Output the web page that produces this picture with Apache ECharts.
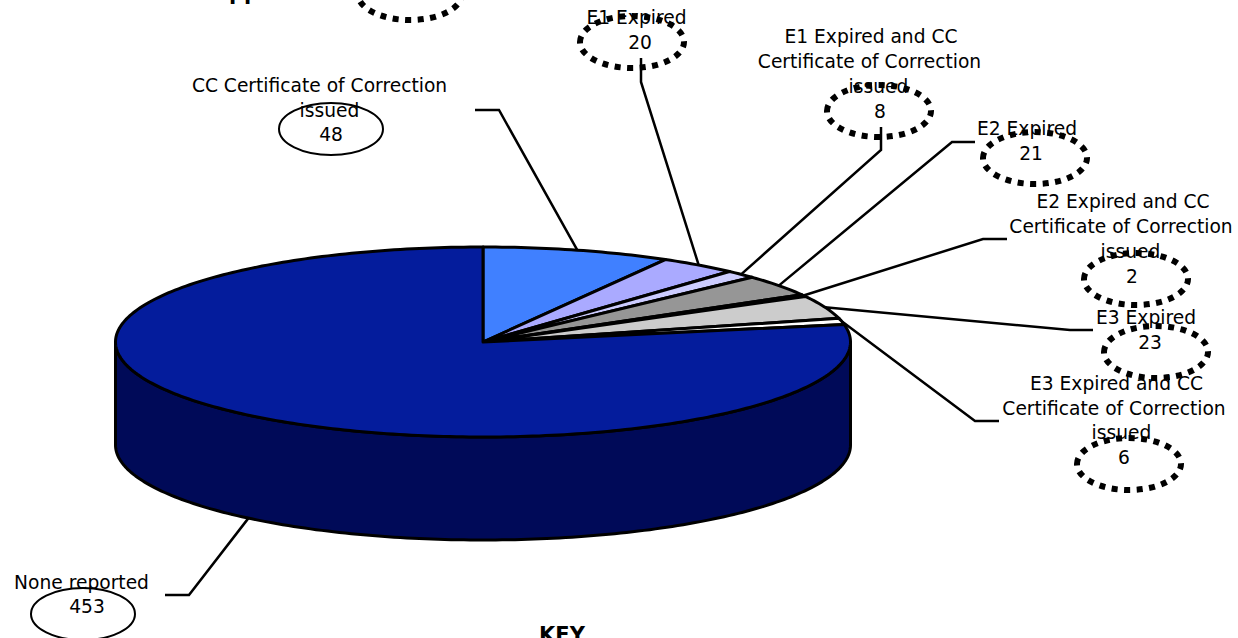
<!DOCTYPE html>
<html>
<head>
<meta charset="utf-8">
<style>
  html, body { margin: 0; padding: 0; background: #fff; }
  #chart { width: 1238px; height: 638px; font-variant-ligatures: none; }
</style>
<script src="https://cdn.jsdelivr.net/npm/echarts@6/dist/echarts.min.js"></script>
</head>
<body>
<div id="chart"></div>
<script>
// Complaint categories, clockwise from twelve o'clock.
const categories = [
  'CC Certificate of Correction\nissued',
  'E1 Expired',
  'E1 Expired and CC\nCertificate of Correction\nissued',
  'E2 Expired',
  'E2 Expired and CC\nCertificate of Correction\nissued',
  'E3 Expired',
  'E3 Expired and CC\nCertificate of Correction\nissued',
  'None reported'
];
const values = [48, 20, 8, 21, 2, 23, 6, 453];

// Slice fills, same order as the categories.
const sliceColors = ['#4080FF', '#AAAAFF', '#CCCCFF', '#969696', '#333333', '#CCCCCC', '#FFFFFF', '#041C9C'];
const wallColor = '#000A58';

// Tilted disc geometry.
const disc = { cx: 483, cy: 342, rx: 367.5, ry: 95, depth: 103 };

// Callout layout: text rows, ring centre, leader elbows (outermost point first).
const callouts = [
  { lineX: [319.5, 329.5], lineY: [85, 110], valueX: 331, valueY: 134, ring: [331, 129], solid: true,
    leader: [[475, 110], [499, 110]] },
  { lineX: [636.5], lineY: [17], valueX: 640, valueY: 42, ring: [632, 42], solid: false,
    leader: [[641, 58], [641, 82]] },
  { lineX: [871, 869.5, 878.5], lineY: [36, 61, 86], valueX: 880, valueY: 111, ring: [879, 111], solid: false,
    leader: [[881, 127], [881, 150]] },
  { lineX: [1027], lineY: [128], valueX: 1031, valueY: 153, ring: [1035, 158], solid: false,
    leader: [[975, 142], [952, 142]] },
  { lineX: [1123, 1121, 1130.5], lineY: [201, 226, 251], valueX: 1132, valueY: 276, ring: [1136, 279], solid: false,
    leader: [[1007, 239], [983, 239]] },
  { lineX: [1146], lineY: [317], valueX: 1150, valueY: 342, ring: [1156, 352], solid: false,
    leader: [[1093, 330], [1070, 330]] },
  { lineX: [1116.5, 1114, 1121.5], lineY: [383, 408, 432], valueX: 1124, valueY: 457, ring: [1129, 464], solid: false,
    leader: [[999, 421], [975, 421]] },
  { lineX: [81.5], lineY: [582], valueX: 87, valueY: 606, ring: [83, 614], solid: true,
    leader: [[165, 595], [189, 595]] }
];

// Ring and bold headings running off the top and bottom of the page.
const clippedRing = [410, -6];
const clippedHeadings = [
  { text: 'pp', x: 244, y: -7 },
  { text: 'KEY', x: 562, y: 635 }
];

const FONT = '18.67px "DejaVu Sans", Verdana, sans-serif';
const BOLD_FONT = 'bold 21px "DejaVu Sans", Verdana, sans-serif';
const total = values.reduce((a, b) => a + b, 0);

// Start and end of every slice in degrees, clockwise from the top.
const spans = [];
values.reduce((acc, v) => {
  const end = acc + v / total * 360;
  spans.push([acc, end]);
  return end;
}, 0);

function rimPoint(deg, drop) {
  const t = deg * Math.PI / 180;
  return [disc.cx + disc.rx * Math.sin(t), disc.cy - disc.ry * Math.cos(t) + (drop || 0)];
}

function arcPoints(a0, a1, drop) {
  const pts = [];
  const n = Math.max(2, Math.ceil(Math.abs(a1 - a0)));
  for (let k = 0; k <= n; k++) pts.push(rimPoint(a0 + (a1 - a0) * k / n, drop));
  return pts;
}

// Visible outer wall: only the front half of the disc shows it.
function renderWall(params) {
  const [a, b] = spans[params.dataIndex];
  const a0 = Math.max(a, 90), a1 = Math.min(b, 270);
  if (a1 <= a0) return { type: 'group', children: [] };
  return {
    type: 'polygon',
    shape: { points: arcPoints(a0, a1, 0).concat(arcPoints(a1, a0, disc.depth)) },
    style: { fill: wallColor, stroke: '#000', lineWidth: 3, lineJoin: 'round' }
  };
}

function renderTop(params) {
  const [a, b] = spans[params.dataIndex];
  return {
    type: 'polygon',
    shape: { points: [[disc.cx, disc.cy]].concat(arcPoints(a, b, 0)) },
    style: { fill: sliceColors[params.dataIndex], stroke: '#000', lineWidth: 3, lineJoin: 'round' }
  };
}

function ringShape(center, solid) {
  return {
    type: 'ellipse',
    shape: { cx: center[0], cy: center[1], rx: 52, ry: 26 },
    style: solid
      ? { fill: 'none', stroke: '#000', lineWidth: 2 }
      : { fill: 'none', stroke: '#000', lineWidth: 6, lineDash: [6, 6.5] }
  };
}

function textShape(text, x, y, font) {
  return {
    type: 'text',
    style: { text, x, y, font, fill: '#000', align: 'center', verticalAlign: 'middle' }
  };
}

function renderCallout(params, api) {
  const i = params.dataIndex;
  const c = callouts[i];
  const [a, b] = spans[i];
  const mid = (a + b) / 2;
  // The largest slice's mid-angle lies on the front, so its leader meets the wall's lower edge.
  const anchor = rimPoint(mid, mid > 90 && mid < 270 ? disc.depth : 0);
  const rows = categories[i].split('\n');
  const children = [
    ringShape(c.ring, c.solid),
    {
      type: 'polyline',
      shape: { points: c.leader.concat([anchor]) },
      style: { fill: 'none', stroke: '#000', lineWidth: 2.5, lineJoin: 'miter' }
    }
  ];
  rows.forEach((row, r) => children.push(textShape(row, c.lineX[r], c.lineY[r], FONT)));
  children.push(textShape(String(api.value(0)), c.valueX, c.valueY, FONT));
  return { type: 'group', children };
}

function renderExtras() {
  return {
    type: 'group',
    children: [ringShape(clippedRing, false)].concat(
      clippedHeadings.map(h => textShape(h.text, h.x, h.y, BOLD_FONT))
    )
  };
}

const chart = echarts.init(document.getElementById('chart'), null, { renderer: 'svg' });
chart.setOption({
  animation: false,
  backgroundColor: '#fff',
  series: [
    { type: 'custom', coordinateSystem: 'none', silent: true, z: 1, data: values, renderItem: renderWall },
    { type: 'custom', coordinateSystem: 'none', silent: true, z: 2, data: values, renderItem: renderTop },
    { type: 'custom', coordinateSystem: 'none', silent: true, z: 3, data: values, renderItem: renderCallout },
    { type: 'custom', coordinateSystem: 'none', silent: true, z: 3, data: [0], renderItem: renderExtras }
  ]
});
</script>
</body>
</html>
